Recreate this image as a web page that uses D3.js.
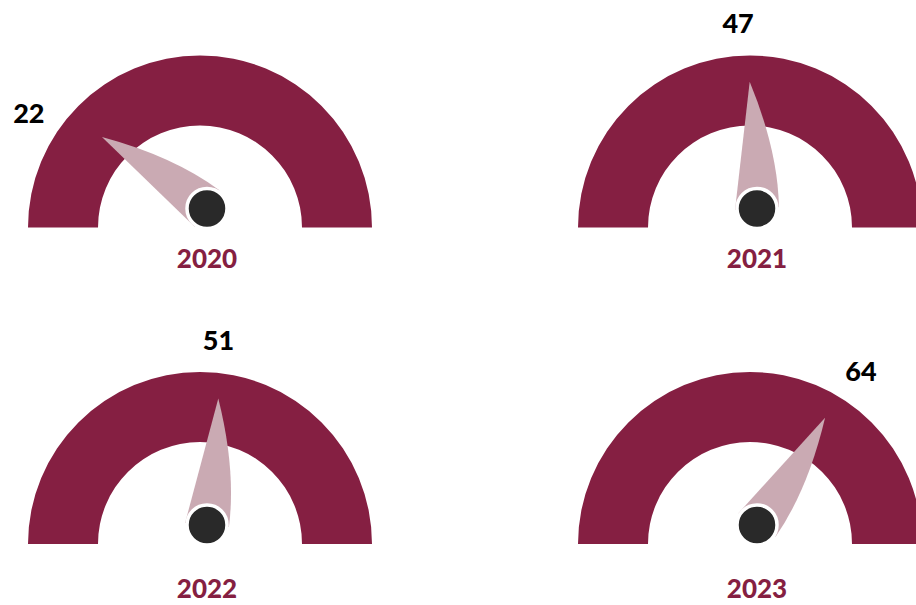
<!DOCTYPE html>
<html>
<head>
<meta charset="utf-8">
<script src="https://cdn.jsdelivr.net/npm/d3@7"></script>
<style>
  body { margin: 0; background: #fff; }
  text { font-family: Lato, "Open Sans", sans-serif; font-weight: 900; }
</style>
</head>
<body>
<svg id="chart"></svg>
<script>
// data
const years = ["2020", "2021", "2022", "2023"];
const values = [22, 47, 51, 64];
const gaugeDomain = [0, 100];

const width = 916, height = 605;
const outerR = 172, innerR = 102;

// 2x2 grid of gauges
const col = d3.scaleOrdinal().domain([0, 1]).range([200, 750]);
const row = d3.scaleOrdinal().domain([0, 1]).range([227.5, 544]);
const yearGap = [40, 54]; // distance from baseline to year label, per row

// value -> needle angle (degrees, measured from left going clockwise)
const angle = d3.scaleLinear().domain(gaugeDomain).range([-12, 198]);

const svg = d3.select("#chart")
    .attr("width", width)
    .attr("height", height);

const arc = d3.arc()
    .innerRadius(innerR)
    .outerRadius(outerR)
    .startAngle(-Math.PI / 2)
    .endAngle(Math.PI / 2);

// needle drawn pointing along +x, base at hub centre
function needlePath(len, hw) {
  const p = d3.path();
  p.moveTo(0, -hw);
  p.lineTo(len, 0);
  p.quadraticCurveTo(len * 0.45, hw * 1.1, 0, hw);
  p.closePath();
  return p.toString();
}

const g = svg.selectAll(".gauge")
    .data(years)
  .enter().append("g")
    .attr("class", "gauge")
    .attr("transform", (d, i) => "translate(" + col(i % 2) + "," + row(Math.floor(i / 2)) + ")");

g.append("path")
    .attr("d", arc)
    .attr("fill", "#851f42");

// needle + hub
const hub = g.append("g")
    .attr("transform", "translate(7,-19)");

hub.append("path")
    .attr("d", needlePath(127, 22))
    .attr("fill", "#caaab3")
    .attr("transform", (d, i) => "rotate(" + (angle(values[i]) - 180) + ")");

hub.append("circle")
    .attr("r", 20)
    .attr("fill", "#292929")
    .attr("stroke", "#fff")
    .attr("stroke-width", 3.5);

// value labels outside the arc
g.append("text")
    .attr("x", (d, i) => -207 * Math.cos(angle(values[i]) * Math.PI / 180))
    .attr("y", (d, i) => -207 * Math.sin(angle(values[i]) * Math.PI / 180) + 12)
    .attr("text-anchor", "middle")
    .attr("font-size", 27)
    .attr("fill", "#000")
    .text((d, i) => values[i]);

// year labels
g.append("text")
    .attr("x", 7)
    .attr("y", (d, i) => yearGap[Math.floor(i / 2)])
    .attr("text-anchor", "middle")
    .attr("font-size", 26)
    .attr("fill", "#851f42")
    .text(d => d);
</script>
</body>
</html>
